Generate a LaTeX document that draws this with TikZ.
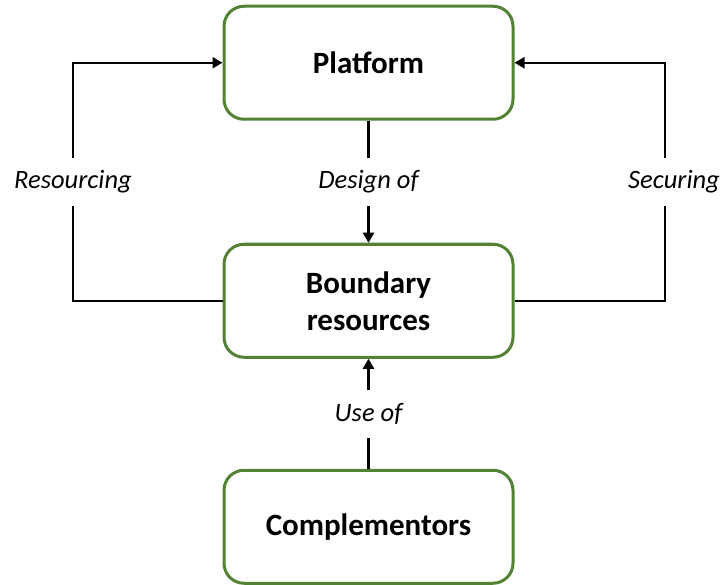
\documentclass[tikz,border=0pt]{standalone}
\usepackage{fontspec}
\setmainfont{Carlito}
\usetikzlibrary{arrows.meta,positioning}
\definecolor{BoxGreen}{RGB}{84,130,53}

\begin{document}
\begin{tikzpicture}[x=1pt,y=1pt,>={Triangle[length=10pt,width=11pt]},
  box/.style={draw=BoxGreen,line width=3pt,rounded corners=20pt,fill=white,minimum width=289pt,minimum height=113pt,align=center,font=\fontsize{31}{37}\selectfont\bfseries},
  lbl/.style={fill=white,minimum height=48pt,inner xsep=2pt,font=\fontsize{26.5}{31}\selectfont\itshape},
  flow/.style={line width=2.2pt}]
\useasboundingbox (0,0) rectangle (722,-585);
\node[box] (plat) at (368.5,-62.75) {Platform};
\node[box,below=122pt of plat] (bnd) {Boundary\\resources};
\node[box,below=110pt of bnd] (comp) {Complementors};
\coordinate (lft) at (73,0);
\coordinate (rgt) at (665,0);
% loops back to the platform
\draw[flow,->] (bnd.west) -- (bnd.west -| lft) -- node[lbl] {Resourcing} (plat.west -| lft) -- (plat.west);
\draw[flow,->] (bnd.east) -- (bnd.east -| rgt) -- node[lbl,xshift=9pt] {Securing} (plat.east -| rgt) -- (plat.east);
% vertical links
\draw[flow,->] (plat) -- node[lbl] {Design of} (bnd);
\draw[flow,->] (comp) -- node[lbl] {Use of} (bnd);
\end{tikzpicture}
\end{document}
